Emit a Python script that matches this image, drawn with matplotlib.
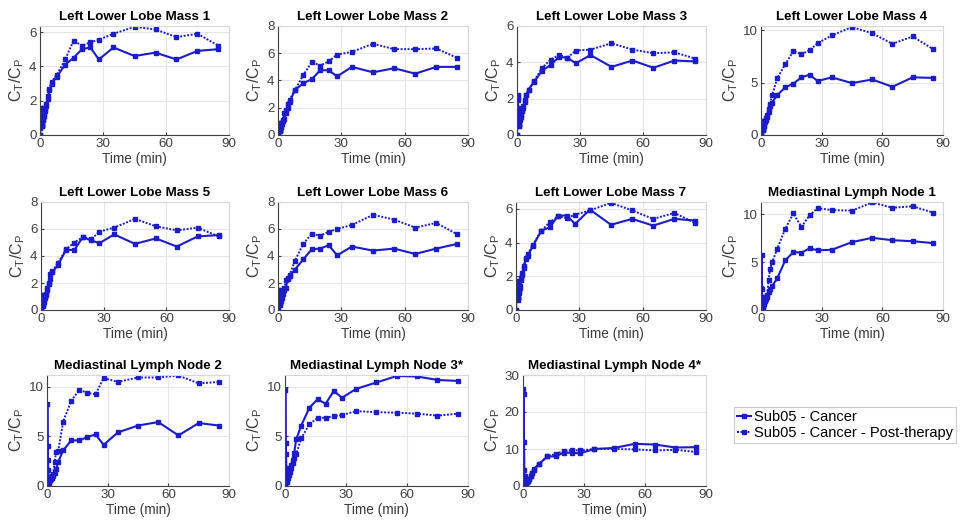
import matplotlib
matplotlib.use("Agg")
import matplotlib.pyplot as plt
from matplotlib.lines import Line2D

plt.rcParams['font.family'] = ['Liberation Sans', 'DejaVu Sans']
plt.rcParams['mathtext.fontset'] = 'custom'
plt.rcParams['mathtext.rm'] = 'Liberation Sans'
plt.rcParams['mathtext.it'] = 'Liberation Sans:italic'

# ---- data ----
times = [0, 0.17, 0.33, 0.5, 0.67, 0.83, 1.0, 1.5, 2.0, 2.5, 3.0, 3.75, 4.5, 5.5,
         8, 12, 16, 20, 24, 28, 35, 45, 55, 65, 75, 85]

titles = ["Left Lower Lobe Mass 1", "Left Lower Lobe Mass 2", "Left Lower Lobe Mass 3",
          "Left Lower Lobe Mass 4", "Left Lower Lobe Mass 5", "Left Lower Lobe Mass 6",
          "Left Lower Lobe Mass 7", "Mediastinal Lymph Node 1", "Mediastinal Lymph Node 2",
          "Mediastinal Lymph Node 3*", "Mediastinal Lymph Node 4*"]

cancer = [
    [0, 0.6, 1.6, 1.5, 0.8, 0.5, 0.6, 0.9, 1.1, 1.4, 1.7, 2.1, 2.6, 3.0,
     3.4, 4.1, 4.5, 5.0, 5.1, 4.4, 5.1, 4.6, 4.8, 4.4, 4.9, 5.0],
    [0, 0.5, 0.9, 0.7, 0.4, 0.3, 0.4, 0.6, 0.8, 1.0, 1.2, 1.6, 2.0, 2.4,
     3.3, 3.8, 4.1, 4.75, 4.75, 4.3, 5.0, 4.6, 4.9, 4.5, 5.0, 5.0],
    [0, 1.2, 2.2, 1.5, 0.8, 0.5, 0.6, 0.8, 1.0, 1.3, 1.5, 1.8, 2.2, 2.5,
     2.9, 3.55, 3.85, 4.3, 4.25, 3.95, 4.4, 3.75, 4.1, 3.7, 4.1, 4.05],
    [0, 0.8, 1.3, 1.2, 0.7, 0.5, 0.6, 0.9, 1.2, 1.4, 1.7, 2.2, 2.8, 3.1,
     3.8, 4.55, 4.9, 5.5, 5.75, 5.15, 5.5, 4.95, 5.3, 4.6, 5.5, 5.45],
    [0, 0.6, 1.1, 0.9, 0.5, 0.3, 0.4, 0.6, 0.9, 1.1, 1.5, 1.9, 2.3, 2.8,
     3.3, 4.45, 4.45, 5.4, 5.15, 4.95, 5.6, 4.9, 5.3, 4.7, 5.45, 5.55],
    [0, 0.9, 1.5, 1.2, 0.7, 0.4, 0.5, 0.7, 0.9, 1.2, 1.5, 1.6, 2.3, 2.5,
     3.0, 3.75, 4.5, 4.55, 4.8, 4.05, 4.7, 4.4, 4.55, 4.15, 4.55, 4.9],
    [0, 1.0, 1.7, 1.4, 0.8, 0.6, 0.7, 1.0, 1.3, 1.8, 2.1, 2.5, 3.0, 3.2,
     3.8, 4.7, 4.9, 5.6, 5.6, 5.1, 5.95, 5.05, 5.4, 5.0, 5.4, 5.3],
    [0, 2.3, 5.75, 1.4, 0.6, 0.3, 0.4, 0.6, 0.9, 1.1, 1.4, 1.9, 2.2, 2.5,
     3.3, 5.2, 6.05, 6.0, 6.45, 6.25, 6.3, 7.1, 7.55, 7.3, 7.2, 7.0],
    [0, 8.3, 4.0, 2.6, 1.6, 0.9, 0.5, 0.6, 0.7, 0.8, 1.0, 1.3, 1.7, 2.4,
     3.6, 4.6, 4.6, 4.95, 5.2, 4.15, 5.4, 6.1, 6.45, 5.1, 6.35, 6.1],
    [0, 9.7, 4.3, 3.2, 1.8, 1.0, 0.7, 1.0, 1.4, 1.7, 2.1, 2.6, 3.3, 4.7,
     6.1, 7.9, 8.75, 8.3, 9.6, 8.9, 9.8, 10.45, 11.1, 11.05, 10.7, 10.6],
    [0, 26.3, 24.8, 12.0, 4.3, 2.6, 1.5, 0.9, 1.1, 1.4, 1.8, 2.6, 3.5, 4.7,
     6.0, 8.0, 8.0, 9.0, 9.0, 8.8, 10.0, 10.3, 11.4, 11.2, 10.4, 10.5],
]

post = [
    [0, 0.4, 1.0, 1.6, 0.9, 0.5, 0.6, 0.9, 1.2, 1.5, 1.8, 2.3, 2.7, 3.1,
     3.5, 4.4, 5.5, 5.2, 5.4, 5.55, 5.9, 6.3, 6.15, 5.7, 5.9, 5.2],
    [0, 0.3, 0.7, 0.9, 0.5, 0.3, 0.4, 0.6, 0.9, 1.1, 1.6, 1.8, 2.3, 2.6,
     3.3, 4.4, 5.35, 5.1, 5.4, 5.9, 6.1, 6.7, 6.3, 6.3, 6.35, 5.65],
    [0, 0.8, 1.9, 2.1, 1.0, 0.5, 0.6, 0.9, 1.1, 1.3, 1.6, 1.9, 2.2, 2.5,
     2.95, 3.7, 4.15, 4.4, 4.25, 4.65, 4.7, 5.05, 4.7, 4.5, 4.55, 4.2],
    [0, 0.5, 1.1, 1.3, 0.8, 0.5, 0.6, 0.9, 1.3, 1.6, 1.9, 2.5, 3.0, 3.8,
     5.4, 6.75, 8.0, 7.7, 8.1, 8.75, 9.5, 10.3, 9.7, 8.7, 9.4, 8.2],
    [0, 0.4, 0.8, 1.1, 0.6, 0.4, 0.5, 0.7, 1.0, 1.2, 1.6, 2.0, 2.7, 2.9,
     3.45, 4.5, 5.0, 5.4, 5.25, 5.8, 6.1, 6.75, 6.2, 5.9, 6.1, 5.45],
    [0, 0.6, 1.1, 1.5, 0.8, 0.5, 0.6, 0.8, 1.1, 1.4, 1.6, 2.2, 2.4, 2.6,
     3.65, 4.9, 5.65, 5.5, 5.8, 6.0, 6.3, 7.05, 6.7, 6.1, 6.45, 5.6],
    [0, 0.7, 1.4, 1.2, 0.8, 0.7, 0.8, 1.1, 1.4, 1.9, 2.2, 2.6, 3.1, 3.3,
     3.85, 4.7, 5.2, 5.55, 5.45, 5.65, 5.9, 6.35, 5.9, 5.4, 5.75, 5.15],
    [0, 1.2, 2.2, 1.4, 0.5, 0.3, 0.4, 0.7, 1.0, 1.4, 1.6, 3.1, 4.3, 5.0,
     6.4, 8.5, 10.1, 8.7, 9.9, 10.65, 10.45, 10.4, 11.25, 10.7, 10.85, 10.2],
    [0, 0.3, 0.7, 0.9, 0.5, 0.3, 0.4, 0.7, 0.8, 1.0, 1.2, 2.4, 3.4, 3.5,
     6.5, 8.6, 9.7, 9.4, 9.25, 10.9, 10.5, 10.95, 10.95, 11.15, 10.35, 10.5],
    [0, 0.3, 0.6, 0.9, 0.6, 0.4, 0.5, 0.8, 1.1, 1.4, 1.8, 2.3, 2.8, 3.2,
     4.8, 6.25, 6.85, 6.9, 7.05, 7.15, 7.55, 7.45, 7.4, 7.3, 7.1, 7.3],
    [0, 0.5, 1.0, 2.0, 1.4, 0.9, 0.8, 0.9, 1.1, 1.4, 1.8, 2.6, 3.6, 4.3,
     6.0, 8.1, 8.6, 9.5, 9.7, 9.6, 10.0, 10.0, 9.9, 9.6, 9.8, 9.2],
]

ylims = [6.35, 8, 6, 10.4, 8, 8, 6.4, 11.3, 11.2, 11.2, 30]
yticks = [[0, 2, 4, 6], [0, 2, 4, 6, 8], [0, 2, 4, 6], [0, 5, 10],
          [0, 2, 4, 6, 8], [0, 2, 4, 6, 8], [0, 2, 4, 6], [0, 5, 10],
          [0, 5, 10], [0, 5, 10], [0, 10, 20, 30]]
xticks = [0, 30, 60, 90]
legend_labels = ["Sub05 - Cancer", "Sub05 - Cancer - Post-therapy"]

# ---- layout (pixels: left, right, top, bottom) ----
W, H = 962, 523
boxes = [
    (40, 229, 26, 135), (278, 468, 26, 135), (517, 706, 26, 135), (761, 943, 26, 135),
    (41, 229, 202, 310), (278, 468, 202, 310), (516, 706, 202, 310), (761, 943, 202, 310),
    (47, 229, 375, 486), (285, 468, 375, 486), (523, 706, 375, 486),
]

COL = '#1c1cc8'
TXT = '#3a3a3a'
fig = plt.figure(figsize=(W / 100, H / 100), dpi=100)

for i, (l, r, t, b) in enumerate(boxes):
    ax = fig.add_axes([l / W, 1 - b / H, (r - l) / W, (b - t) / H])
    ax.plot(times, cancer[i], '-', color=COL, lw=1.5, marker='s', ms=2.4,
            mec=COL, mfc=COL)
    ax.plot(times, post[i], ':', color=COL, lw=1.4, marker='s', ms=2.4,
            mec=COL, mfc=COL, dashes=(1, 0.8))
    ax.set_xlim(0, 90)
    ax.set_ylim(0, ylims[i])
    ax.set_xticks(xticks)
    ax.set_yticks(yticks[i])
    ax.grid(True, color='#e6e6e6', lw=0.8)
    ax.set_axisbelow(True)
    ax.tick_params(direction='in', length=2, labelsize=9.6, colors='#404040',
                   labelcolor='#404040', pad=2.5)
    for s in ['left', 'bottom']:
        ax.spines[s].set_color('#404040')
        ax.spines[s].set_linewidth(0.8)
    for s in ['top', 'right']:
        ax.spines[s].set_color('#d8d8d8')
        ax.spines[s].set_linewidth(0.8)
    ax.set_title(titles[i], fontsize=9.6, fontweight='bold', color='black', pad=4)
    ax.set_xlabel('Time (min)', fontsize=9.8, color=TXT, labelpad=1)
    ax.set_ylabel(r'$\mathrm{C_T/C_P}$', fontsize=11.5, color=TXT, labelpad=2)

handles = [Line2D([], [], color=COL, lw=1.5, ls='-', marker='s', ms=2.4),
           Line2D([], [], color=COL, lw=1.4, ls=':', marker='s', ms=2.4,
                  dashes=(1, 0.8))]
lx0, lx1, ly0, ly1 = 734, 959, 407, 447
leg = fig.legend(handles, legend_labels, loc='upper left',
                 bbox_to_anchor=(lx0 / W, 1 - ly0 / H),
                 fontsize=10.5, frameon=True, fancybox=False, handlelength=1.0,
                 handletextpad=0.15, borderpad=0.2, labelspacing=0.15,
                 borderaxespad=0)
leg.get_frame().set_edgecolor('#bdbdbd')
leg.get_frame().set_linewidth(0.8)
for txt in leg.get_texts():
    txt.set_color('black')

fig.savefig('out.png', dpi=100)
